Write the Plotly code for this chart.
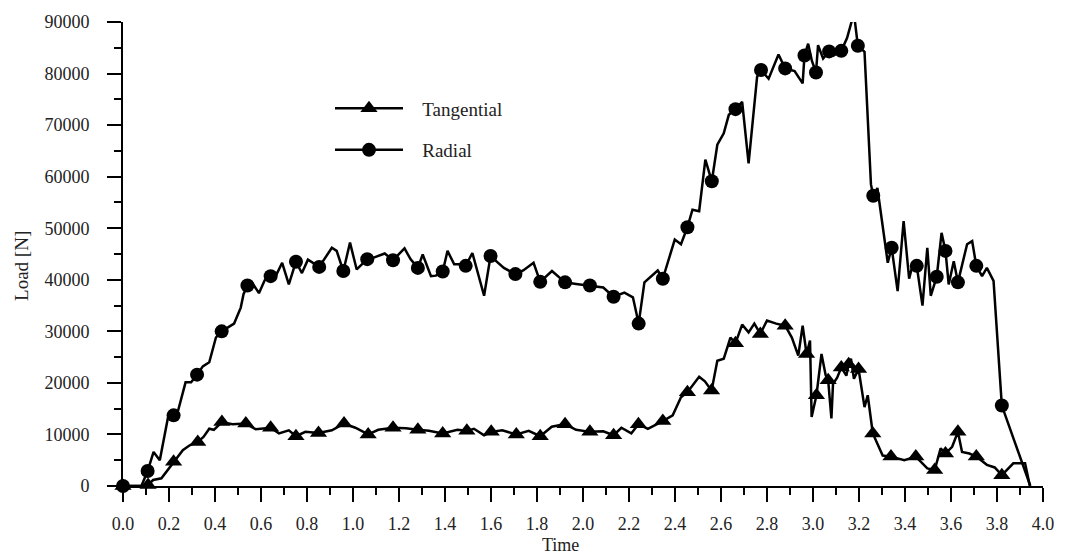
import plotly.graph_objects as go

# Radial load history
radial_time = [0.000, 0.080, 0.107, 0.133, 0.160, 0.196, 0.220, 0.240, 0.272, 0.296,
               0.322, 0.347, 0.375, 0.404, 0.429, 0.455, 0.483, 0.512, 0.524, 0.541,
               0.562, 0.591, 0.616, 0.642, 0.667, 0.692, 0.721, 0.752, 0.778, 0.804,
               0.853, 0.908, 0.929, 0.958, 0.987, 1.016, 1.062, 1.090, 1.138, 1.174,
               1.224, 1.250, 1.282, 1.303, 1.339, 1.360, 1.390, 1.411, 1.440, 1.465,
               1.490, 1.519, 1.570, 1.598, 1.656, 1.706, 1.740, 1.785, 1.814, 1.865,
               1.922, 1.970, 2.030, 2.088, 2.133, 2.180, 2.217, 2.242, 2.267, 2.325,
               2.347, 2.399, 2.426, 2.454, 2.476, 2.505, 2.532, 2.560, 2.584, 2.612,
               2.634, 2.663, 2.692, 2.720, 2.757, 2.774, 2.807, 2.850, 2.879, 2.920,
               2.955, 2.963, 2.979, 2.995, 3.013, 3.022, 3.044, 3.070, 3.090, 3.123,
               3.148, 3.178, 3.195, 3.224, 3.252, 3.262, 3.280, 3.310, 3.325, 3.342,
               3.368, 3.394, 3.418, 3.432, 3.451, 3.476, 3.497, 3.512, 3.538, 3.559,
               3.576, 3.590, 3.612, 3.630, 3.670, 3.692, 3.710, 3.735, 3.756, 3.785,
               3.821, 3.945]
radial_load = [0, 0, 2900, 6600, 5000, 13400, 13700, 14700, 20100, 20100,
               21600, 23200, 24000, 28800, 30000, 30700, 31500, 34600, 37200, 38900,
               39400, 37400, 39900, 40700, 41000, 43300, 39100, 43500, 41300, 43900,
               42500, 46200, 45600, 41700, 47200, 42000, 44000, 44300, 45100, 43800,
               46100, 44000, 42300, 44900, 40700, 40800, 41600, 45600, 43000, 43000,
               42700, 45200, 36900, 44600, 42300, 41100, 41800, 43300, 39600, 41700,
               39500, 39200, 38900, 38500, 36700, 37500, 36600, 31500, 39500, 41800,
               40200, 47800, 46900, 50200, 53600, 53300, 63300, 59100, 66200, 68400,
               72000, 73100, 74500, 62600, 79400, 80700, 79000, 83700, 81000, 80500,
               78100, 83500, 85800, 82500, 80200, 85500, 82900, 84300, 83500, 84400,
               86900, 91700, 85400, 84200, 58500, 56300, 57800, 48100, 43300, 46200,
               37800, 51400, 40200, 42700, 42700, 35000, 46200, 36900, 40600, 49100,
               45600, 39100, 43600, 39500, 46900, 47500, 42700, 40700, 42300, 39800,
               15600, 0]
radial_marked = [0.000, 0.107, 0.220, 0.322, 0.429, 0.541, 0.642, 0.752, 0.853, 0.958,
                 1.062, 1.174, 1.282, 1.390, 1.490, 1.598, 1.706, 1.814, 1.922, 2.030,
                 2.133, 2.242, 2.347, 2.454, 2.560, 2.663, 2.774, 2.879, 2.963, 3.013,
                 3.070, 3.123, 3.195, 3.262, 3.342, 3.451, 3.538, 3.576, 3.630, 3.710,
                 3.821]

# Tangential load history
tangential_time = [0.000, 0.080, 0.109, 0.131, 0.167, 0.220, 0.260, 0.290, 0.325, 0.350,
                   0.375, 0.395, 0.430, 0.476, 0.534, 0.577, 0.642, 0.678, 0.721, 0.752,
                   0.793, 0.850, 0.908, 0.961, 1.010, 1.066, 1.110, 1.174, 1.230, 1.282,
                   1.330, 1.390, 1.454, 1.495, 1.526, 1.570, 1.601, 1.649, 1.710, 1.764,
                   1.814, 1.864, 1.922, 1.970, 2.030, 2.088, 2.133, 2.167, 2.210, 2.241,
                   2.282, 2.347, 2.390, 2.426, 2.454, 2.505, 2.530, 2.559, 2.584, 2.612,
                   2.641, 2.663, 2.692, 2.720, 2.745, 2.771, 2.800, 2.840, 2.879, 2.908,
                   2.936, 2.955, 2.972, 2.987, 2.994, 3.015, 3.037, 3.055, 3.066, 3.080,
                   3.087, 3.105, 3.123, 3.145, 3.155, 3.165, 3.178, 3.198, 3.224, 3.238,
                   3.260, 3.303, 3.339, 3.397, 3.447, 3.497, 3.529, 3.555, 3.576, 3.605,
                   3.630, 3.648, 3.680, 3.710, 3.756, 3.790, 3.821, 3.871, 3.922, 3.943]
tangential_load = [0, 0, 200, 1160, 1500, 4700, 6950, 7900, 8550, 9500,
                   11100, 10900, 12400, 12000, 12100, 11000, 11300, 10200, 10800, 9650,
                   10500, 10300, 10800, 12100, 11300, 10000, 10900, 11300, 11200, 10900,
                   10700, 10200, 10900, 10700, 11100, 9850, 10500, 10800, 10000, 10700,
                   9650, 11500, 12000, 10900, 10500, 10600, 9850, 11300, 10200, 12000,
                   11100, 12600, 13700, 17200, 18200, 21200, 20300, 18500, 24300, 24700,
                   28800, 27700, 31300, 29800, 31500, 29500, 32100, 31500, 31100, 28800,
                   25300, 31100, 25600, 28200, 13400, 17600, 25600, 21500, 20500, 13100,
                   19800, 21000, 23000, 21400, 23600, 24700, 20800, 22700, 15300, 17600,
                   10200, 5900, 5700, 5000, 5700, 3400, 3100, 7300, 6300, 7600,
                   10500, 6600, 6300, 5700, 4100, 3600, 2100, 4400, 4400, 0]
tangential_marked = [0.000, 0.109, 0.220, 0.325, 0.430, 0.534, 0.642, 0.752, 0.850, 0.961,
                     1.066, 1.174, 1.282, 1.390, 1.495, 1.601, 1.710, 1.814, 1.922, 2.030,
                     2.133, 2.241, 2.347, 2.454, 2.559, 2.663, 2.771, 2.879, 2.972, 3.015,
                     3.066, 3.123, 3.155, 3.198, 3.260, 3.339, 3.447, 3.529, 3.576, 3.630,
                     3.710, 3.821]

FONT = "Liberation Serif, Times New Roman, serif"
INK = "black"
TEXT = "#222"


def pick(times, loads, marks):
    keep = set(marks)
    xs = [t for t in times if t in keep]
    ys = [v for t, v in zip(times, loads) if t in keep]
    return xs, ys


fig = go.Figure()

series = [
    ("Tangential", tangential_time, tangential_load, tangential_marked, "triangle-up", 15),
    ("Radial", radial_time, radial_load, radial_marked, "circle", 14),
]

for name, times, loads, marks, symbol, size in series:
    fig.add_trace(go.Scatter(
        x=times, y=loads, mode="lines", showlegend=False,
        line=dict(color=INK, width=2.5), cliponaxis=False, hoverinfo="skip",
    ))
    mx, my = pick(times, loads, marks)
    fig.add_trace(go.Scatter(
        x=mx, y=my, mode="markers", showlegend=False,
        marker=dict(symbol=symbol, size=size, color=INK, line=dict(width=0)),
        cliponaxis=False,
    ))

# legend entries: line with a centred marker
for name, times, loads, marks, symbol, size in series:
    fig.add_trace(go.Scatter(
        x=[None], y=[None], mode="lines+markers",
        name="\u00a0\u00a0\u00a0" + name, legendgroup=name,
        line=dict(color=INK, width=2.5),
        marker=dict(symbol=symbol, size=size, color=INK),
    ))

axis_common = dict(
    showline=True, linecolor=INK, linewidth=2,
    ticks="outside", ticklen=14, tickwidth=2, tickcolor=INK,
    showgrid=False, zeroline=False,
    tickfont=dict(family=FONT, size=18, color=TEXT),
)

fig.update_xaxes(
    range=[0, 4], tick0=0, dtick=0.2, tickformat=".1f", ticklabelstandoff=6,
    minor=dict(dtick=0.1, ticks="outside", ticklen=7, tickwidth=2, tickcolor=INK),
    **axis_common,
)
fig.update_yaxes(
    range=[0, 90000], tick0=0, dtick=10000, tickformat="d", ticklabelstandoff=14,
    minor=dict(dtick=5000, ticks="outside", ticklen=7, tickwidth=2, tickcolor=INK),
    **axis_common,
)

fig.update_layout(
    width=1066, height=556,
    margin=dict(l=123, r=16, t=20, b=70),
    paper_bgcolor="white", plot_bgcolor="white",
    font=dict(family=FONT, color=TEXT),
    legend=dict(
        x=0.225, y=0.855, xanchor="left", yanchor="top",
        font=dict(family=FONT, size=19, color=TEXT),
        itemwidth=68, tracegroupgap=14, traceorder="grouped",
        bgcolor="rgba(0,0,0,0)",
    ),
    annotations=[
        dict(text="Time", xref="paper", yref="paper", x=0.475, y=-0.127,
             xanchor="center", yanchor="middle", showarrow=False,
             font=dict(family=FONT, size=18, color=TEXT)),
        dict(text="Load [N]", xref="paper", yref="paper", x=-0.111, y=0.474,
             xanchor="center", yanchor="middle", textangle=-90, showarrow=False,
             font=dict(family=FONT, size=19, color=TEXT)),
    ],
)

fig.write_html("out.html")
